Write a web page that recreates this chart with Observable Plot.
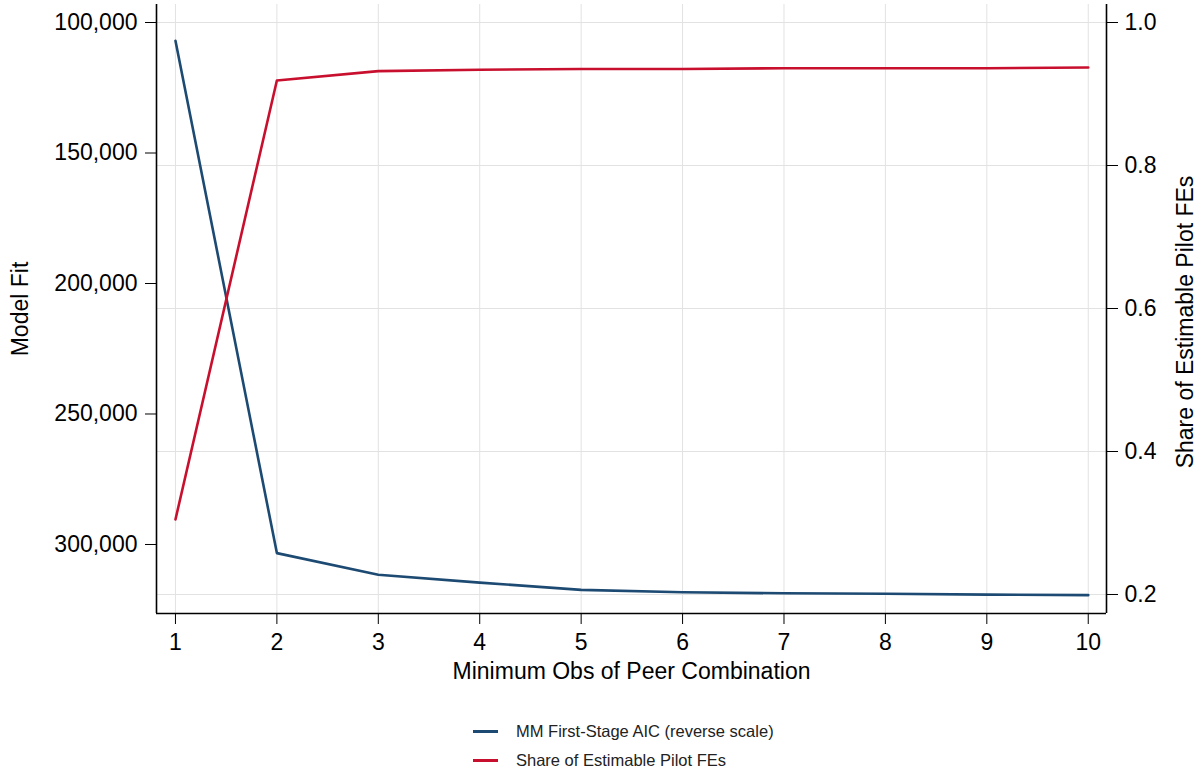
<!DOCTYPE html>
<html>
<head>
<meta charset="utf-8">
<script src="https://cdn.jsdelivr.net/npm/d3@7"></script>
<script src="https://cdn.jsdelivr.net/npm/@observablehq/plot@0.6"></script>
<style>
  html, body { margin: 0; padding: 0; background: #fff; }
  body { font-family: "Liberation Sans", Arial, Helvetica, sans-serif; }
  #wrap { position: relative; width: 1203px; height: 773px; }
  #chart svg { display: block; }
  #legend { position: absolute; left: 0; top: 0; width: 1203px; }
  .lrow { position: absolute; left: 473px; height: 24px; display: flex; align-items: center; }
  .lsw { width: 25px; height: 3px; margin-right: 18px; }
  .ltx { font-size: 16.5px; color: #222; white-space: nowrap; }
</style>
</head>
<body>
<div id="wrap">
  <div id="chart"></div>
  <div id="legend"></div>
</div>
<script>
// ---- data ----
const minObs = [1, 2, 3, 4, 5, 6, 7, 8, 9, 10];
const aicValues = [107000, 303300, 311600, 314600, 317400, 318300, 318700, 318900, 319200, 319400];
const shareValues = [0.305, 0.919, 0.932, 0.934, 0.935, 0.935, 0.936, 0.936, 0.936, 0.937];

const xTicks = [1, 2, 3, 4, 5, 6, 7, 8, 9, 10];
const aicTicks = [100000, 150000, 200000, 250000, 300000];
const shareTicks = [0.2, 0.4, 0.6, 0.8, 1.0];

const seriesNames = ["MM First-Stage AIC (reverse scale)", "Share of Estimable Pilot FEs"];
const seriesColors = ["#1d4a72", "#c8102e"];

const xTitle = "Minimum Obs of Peer Combination";
const yTitle = "Model Fit";
const y2Title = "Share of Estimable Pilot FEs";

// ---- dual axis mapping: share -> left-axis (AIC) units ----
const shareSpan = 273950;
const shareToAic = s => 100000 + (1 - s) * shareSpan;
const aicToShare = v => 1 - (v - 100000) / shareSpan;

const xDomain = [0.813, 10.18];
const yDomain = [93100, 326440];

const data = minObs.map((m, i) => ({ minObs: m, aic: aicValues[i], share: shareValues[i] }));

const W = 1203, H = 690;
const font = "Liberation Sans, Arial, Helvetica, sans-serif";

const chart = Plot.plot({
  width: W,
  height: H,
  marginLeft: 156,
  marginRight: 97,
  marginTop: 4,
  marginBottom: 77,
  style: { fontFamily: font, fontSize: "23px", color: "#000", background: "#fff", overflow: "visible" },
  x: { domain: xDomain, axis: null },
  y: { domain: yDomain, reverse: true, axis: null },
  marks: [
    Plot.gridX(xTicks, { stroke: "#e2e2e2", strokeOpacity: 1, strokeWidth: 1 }),
    Plot.gridY(shareTicks.map(shareToAic), { stroke: "#e2e2e2", strokeOpacity: 1, strokeWidth: 1 }),
    Plot.axisX(xTicks, { anchor: "bottom", tickSize: 11, tickPadding: 9, tickFormat: d => String(d), label: null, fontSize: 23 }),
    Plot.axisY(aicTicks, { anchor: "left", tickSize: 11, tickPadding: 8, tickFormat: d3.format(","), label: null, fontSize: 23 }),
    Plot.axisY(shareTicks.map(shareToAic), { anchor: "right", tickSize: 11, tickPadding: 7, tickFormat: d => aicToShare(d).toFixed(1), label: null, fontSize: 23 }),
    Plot.ruleX([xDomain[0], xDomain[1]], { stroke: "#000", strokeWidth: 1.6 }),
    Plot.ruleY([yDomain[1]], { stroke: "#000", strokeWidth: 1.6 }),
    Plot.line(data, { x: "minObs", y: "aic", stroke: seriesColors[0], strokeWidth: 2.6 }),
    Plot.line(data, { x: "minObs", y: d => shareToAic(d.share), stroke: seriesColors[1], strokeWidth: 2.6 }),
    Plot.text([yTitle], { text: d => d, frameAnchor: "left", dx: -136, rotate: -90, textAnchor: "middle", lineAnchor: "middle", fontSize: 23, fill: "#000" }),
    Plot.text([y2Title], { text: d => d, frameAnchor: "right", dx: 79, dy: 13, rotate: -90, textAnchor: "middle", lineAnchor: "middle", fontSize: 23, fill: "#000" }),
    Plot.text([xTitle], { text: d => d, frameAnchor: "bottom", dy: 58, textAnchor: "middle", lineAnchor: "middle", fontSize: 23, fill: "#000" })
  ]
});
document.getElementById("chart").appendChild(chart);

// ---- legend (below the SVG) ----
const legendTops = [719, 748];
const legend = d3.select("#legend");
seriesNames.forEach((name, i) => {
  const row = legend.append("div").attr("class", "lrow").style("top", legendTops[i] + "px");
  row.append("div").attr("class", "lsw").style("background", seriesColors[i]);
  row.append("div").attr("class", "ltx").text(name);
});
</script>
</body>
</html>
